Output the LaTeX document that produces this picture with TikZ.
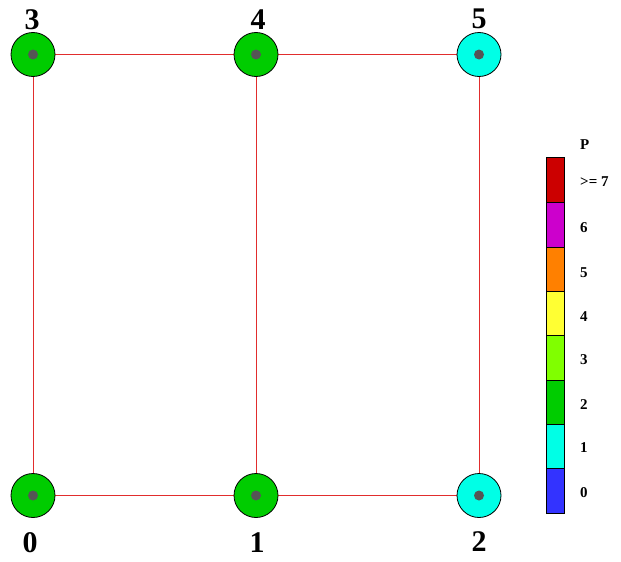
\documentclass[tikz,border=0pt]{standalone}
\usepackage{fontspec}
\setmainfont{Liberation Serif}
\definecolor{cRed}{RGB}{204,0,0}
\definecolor{cMag}{RGB}{204,0,204}
\definecolor{cOra}{RGB}{255,128,0}
\definecolor{cYel}{RGB}{255,255,51}
\definecolor{cLim}{RGB}{128,255,0}
\definecolor{cGrn}{RGB}{0,204,0}
\definecolor{cCya}{RGB}{0,255,230}
\definecolor{cBlu}{RGB}{51,51,255}
\definecolor{cEdge}{RGB}{225,45,45}
\definecolor{cDot}{RGB}{85,85,85}
\begin{document}
\begin{tikzpicture}[x=1pt,y=-1pt,
  vert/.style={circle,draw=black,line width=0.8pt,minimum size=44pt,inner sep=0pt},
  dotc/.style={circle,fill=cDot,minimum size=10pt,inner sep=0pt},
  edge/.style={draw=cEdge,line width=0.8pt},
  vlab/.style={font=\fontsize{30}{30}\selectfont\bfseries,inner sep=0pt},
  leglab/.style={font=\fontsize{15}{15}\selectfont\bfseries,anchor=west,inner sep=0pt},
  legbox/.style={draw=black,line width=0.6pt}]
\useasboundingbox (0,0) rectangle (621,562);
\fill[white] (0,0) rectangle (621,562);
% vertices
\coordinate (p0) at (33,495.5);
\coordinate (p1) at (256,495.5);
\coordinate (p2) at (479,495.5);
\coordinate (p3) at (33,54.5);
\coordinate (p4) at (256,54.5);
\coordinate (p5) at (479,54.5);
% edges
\draw[edge] (p0) -- (p1) -- (p2);
\draw[edge] (p3) -- (p4) -- (p5);
\draw[edge] (p0) -- (p3);
\draw[edge] (p1) -- (p4);
\draw[edge] (p2) -- (p5);
% nodes
\node[vert,fill=cGrn] (n0) at (p0) {};
\node[vert,fill=cGrn] (n1) at (p1) {};
\node[vert,fill=cCya] (n2) at (p2) {};
\node[vert,fill=cGrn] (n3) at (p3) {};
\node[vert,fill=cGrn] (n4) at (p4) {};
\node[vert,fill=cCya] (n5) at (p5) {};
\foreach \i in {0,...,5}{\node[dotc] (d\i) at (p\i) {};}
% labels
\node[vlab] (l0) at (30,543) {0};
\node[vlab] (l1) at (257,543) {1};
\node[vlab] (l2) at (479,542) {2};
\node[vlab] (l3) at (32,20) {3};
\node[vlab] (l4) at (258,20) {4};
\node[vlab] (l5) at (479,19) {5};
% legend
\fill[cRed] (546,157) rectangle (564,202);
\fill[cMag] (546,202) rectangle (564,247);
\fill[cOra] (546,247) rectangle (564,291);
\fill[cYel] (546,291) rectangle (564,335);
\fill[cLim] (546,335) rectangle (564,380);
\fill[cGrn] (546,380) rectangle (564,424);
\fill[cCya] (546,424) rectangle (564,468);
\fill[cBlu] (546,468) rectangle (564,513);
\foreach \yy in {202,247,291,335,380,424,468}{\draw[line width=0.6pt] (546,\yy) -- (564,\yy);}
\draw[legbox] (546,157) rectangle (564,513);
\node[leglab] (lp) at (580,145) {P};
\node[leglab] (lg7) at (580,182) {>= 7};
\node[leglab] (lg6) at (580,228) {6};
\node[leglab] (lg5) at (580,273) {5};
\node[leglab] (lg4) at (580,317) {4};
\node[leglab] (lg3) at (580,360) {3};
\node[leglab] (lg2) at (580,405) {2};
\node[leglab] (lg1) at (580,448) {1};
\node[leglab] (lg0) at (580,493) {0};
\end{tikzpicture}
\end{document}
